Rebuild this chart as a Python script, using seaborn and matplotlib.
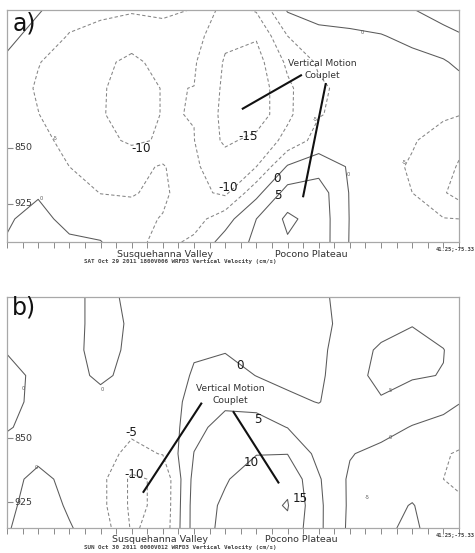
import numpy as np
import matplotlib
matplotlib.use("Agg")
import matplotlib.pyplot as plt
import seaborn as sns

sns.set_theme(style="white")
plt.rcParams['font.family'] = ['DejaVu Sans']

# ---------------- data ----------------
# distance along cross-section (grid units, 0..29)
x_grid = [0, 2, 4, 6, 8, 10, 12, 14, 16, 18, 20, 22, 24, 26, 28, 29]
levels = [-15, -10, -5, 0, 5, 10, 15]

# Panel a: pressure levels (hPa) and vertical velocity (cm/s) per level
a_pressure = [665, 700, 735, 770, 805, 840, 875, 910, 945, 976]
a_w_665 = [2.0, 0.5, -3.0, -4.0, -4.5, -4.0, -5.2, -12.0, -9.5, 0.5, 2.0, 3.0, 3.5, 4.8, 7.0, 8.0]
a_w_700 = [1.5, -2.0, -5.3, -6.5, -8.0, -7.0, -8.0, -14.0, -14.5, -5.0, -1.5, -1.2, -0.3, 1.5, 3.5, 4.5]
a_w_735 = [-1.0, -4.8, -7.0, -9.0, -11.0, -8.5, -9.5, -15.5, -17.0, -9.0, -4.3, -3.5, -2.5, -1.8, -0.5, 1.0]
a_w_770 = [-2.5, -5.5, -7.5, -9.5, -12.0, -9.8, -10.05, -16.0, -18.0, -11.0, -5.8, -3.5, -2.8, -2.8, -2.5, -2.0]
a_w_805 = [-3.0, -4.9, -7.5, -9.6, -12.0, -9.8, -10.1, -16.5, -18.0, -11.0, -5.3, -3.5, -3.0, -3.5, -4.3, -4.8]
a_w_840 = [-3.5, -4.0, -6.0, -8.5, -10.8, -9.5, -9.9, -16.0, -13.5, -8.5, -3.0, -2.0, -3.0, -4.6, -7.0, -8.5]
a_w_875 = [-3.5, -4.0, -5.0, -6.0, -6.5, -4.5, -9.5, -12.0, -10.0, 0.5, 3.0, -0.5, -3.5, -5.5, -8.0, -10.5]
a_w_910 = [-1.5, -0.5, -3.0, -5.1, -5.3, -4.0, -8.5, -11.0, -1.5, 7.0, 7.5, -0.3, -3.0, -5.0, -9.5, -12.0]
a_w_945 = [-0.5, 1.5, -1.5, -2.5, -3.5, -5.3, -7.0, -2.0, 5.0, 11.0, 8.0, -0.2, -2.0, -3.5, -4.8, -5.0]
a_w_976 = [0.3, 1.0, 0.8, 0.2, -3.5, -6.5, -4.0, 2.0, 6.0, 9.5, 8.0, -0.3, -2.0, -3.0, -4.0, -4.5]

# Panel b
b_pressure = [684, 715, 746, 776, 807, 837, 868, 898, 929, 956]
b_w_684 = [-2.0, -2.5, -1.5, 1.5, -1.0, -2.5, -3.0, -3.5, -3.5, -2.5, -0.8, 1.5, 2.0, 2.5, 2.5, 2.5]
b_w_715 = [-1.5, -2.5, -1.5, 1.5, -0.5, -2.5, -3.0, -3.5, -3.5, -2.5, -1.2, 1.5, 2.5, 4.8, 3.5, 2.5]
b_w_746 = [-0.3, -1.5, -1.3, 1.5, -0.8, -2.0, -0.3, -0.3, -1.5, -1.5, -0.8, 2.0, 6.0, 6.5, 5.1, 3.5]
b_w_776 = [1.5, -1.0, -1.5, 0.8, -1.2, -1.8, 0.3, 2.0, -0.1, -1.5, -0.8, 3.0, 6.5, 5.3, 4.9, 3.0]
b_w_807 = [1.2, -1.0, -1.5, -1.5, -2.0, -2.0, 1.2, 4.2, 3.5, 1.2, -0.2, 3.0, 4.5, 3.5, 1.5, 0.2]
b_w_837 = [0.3, -1.2, -2.0, -3.0, -4.2, -4.5, 3.8, 6.5, 7.0, 4.9, 3.5, 3.0, 2.0, -0.3, -1.5, -2.0]
b_w_868 = [-1.5, -1.5, -2.0, -3.5, -6.0, -4.8, 5.1, 8.0, 9.8, 9.9, 3.5, 0.3, -1.5, -2.5, -4.5, -5.5]
b_w_898 = [-1.8, 1.5, -1.5, -3.5, -11.0, -9.0, 6.5, 9.5, 13.0, 14.0, 5.5, -0.8, -2.0, -2.5, -5.0, -6.0]
b_w_929 = [-1.0, 2.0, -0.5, -3.5, -11.0, -9.0, 7.0, 11.0, 13.5, 15.3, 6.0, -0.8, -2.0, 0.3, -3.5, -4.0]
b_w_956 = [-0.3, 2.0, 0.3, -2.0, -10.5, -8.5, 7.0, 11.5, 13.0, 14.0, 6.0, -1.0, -1.0, 1.0, -3.0, -3.5]

a_field = np.array([a_w_665, a_w_700, a_w_735, a_w_770, a_w_805,
                    a_w_840, a_w_875, a_w_910, a_w_945, a_w_976])
b_field = np.array([b_w_684, b_w_715, b_w_746, b_w_776, b_w_807,
                    b_w_837, b_w_868, b_w_898, b_w_929, b_w_956])

pressure_ticks = [850, 925]
place_labels = ["Susquehanna Valley", "Pocono Plateau"]
titles = ["SAT Oct 29 2011 1800V006 WRFD3 Vertical Velocity (cm/s)",
          "SUN Oct 30 2011 0000V012 WRFD3 Vertical Velocity (cm/s)"]

# ---------------- figure ----------------
W, H = 475, 553
fig = plt.figure(figsize=(W / 100, H / 100), dpi=100)
fig.patch.set_facecolor("white")


def fx(px):
    return px / W


def fy(py):
    return 1 - py / H


axA = fig.add_axes([fx(7), fy(242), 452 / W, 232 / H])
axB = fig.add_axes([fx(7), fy(528), 452 / W, 231 / H])

neg_col, pos_col = "#858585", "#5a5a5a"
line_colors = [neg_col if l < 0 else pos_col for l in levels]
line_styles = [(0, (3.2, 2.2)) if l < 0 else "solid" for l in levels]


def style_axis(ax, ylims):
    ax.set_facecolor("white")
    ax.set_xlim(0, 29)
    ax.set_ylim(*ylims)
    for s in ax.spines.values():
        s.set_color("#a8a8a8")
        s.set_linewidth(0.9)
    ax.set_xticks(np.arange(0, 30, 1))
    ax.set_xticklabels([])
    ax.tick_params(axis="x", direction="out", length=4, width=0.7,
                   color="#8a8a8a", bottom=True, top=False)
    ax.set_yticks(pressure_ticks)
    ax.set_yticklabels([])
    ax.tick_params(axis="y", direction="in", length=4.5, width=0.8,
                   color="#8a8a8a", left=True, right=False)
    ax.grid(False)
    for p in pressure_ticks:
        ax.text(0.5, p, str(p), fontsize=6.8, color="#3a3a3a",
                ha="left", va="center")


for ax, P, Z, ylims in [(axA, a_pressure, a_field, (975.9, 665.2)),
                        (axB, b_pressure, b_field, (955.5, 683.6))]:
    ax.contour(np.array(x_grid), np.array(P), Z, levels=levels,
               colors=line_colors, linewidths=0.75, linestyles=line_styles)
    style_axis(ax, ylims)

big = dict(fontsize=8.6, color="#1a1a1a", ha="center", va="center")
small = dict(fontsize=3.6, color="#555555", ha="center", va="center")
note = dict(fontsize=6.6, color="#333333", ha="center", va="center")

# ---- panel a annotations ----
axA.text(1.1, 683, "a)", fontsize=17, color="#111111", ha="center", va="center")
for s, x, p in [("-10", 8.6, 851), ("-15", 15.5, 835), ("-10", 14.2, 903),
                ("0", 17.3, 891), ("5", 17.4, 913)]:
    axA.text(x, p, s, **big)
for s, x, p in [("0", 2.2, 918), ("0", 22.8, 696), ("0", 21.9, 886),
                ("-5", 3.1, 837), ("-5", 19.8, 812), ("-5", 25.5, 870)]:
    axA.text(x, p, s, **small)
axA.text(20.2, 737, "Vertical Motion", **note)
axA.text(20.2, 753, "Couplet", **note)
axA.plot([18.92, 15.07], [752, 798], color="#111111", lw=1.5, solid_capstyle="butt")
axA.plot([20.46, 18.99], [763, 916], color="#111111", lw=1.5, solid_capstyle="butt")

# ---- panel b annotations ----
axB.text(1.1, 696, "b)", fontsize=17, color="#111111", ha="center", va="center")
for s, x, p in [("0", 14.95, 764), ("5", 16.1, 828), ("10", 15.7, 878),
                ("15", 18.8, 921), ("-5", 8.0, 843), ("-10", 8.15, 893)]:
    axB.text(x, p, s, **big)
for s, x, p in [("0", 1.03, 791), ("0", 6.1, 793), ("0", 1.9, 884),
                ("0", 24.6, 849), ("5", 24.6, 794), ("-5", 23.1, 920)]:
    axB.text(x, p, s, **small)
axB.text(14.3, 791, "Vertical Motion", **note)
axB.text(14.3, 805, "Couplet", **note)
axB.plot([12.5, 8.72], [808, 914], color="#111111", lw=1.5, solid_capstyle="butt")
axB.plot([14.5, 17.45], [818, 903], color="#111111", lw=1.5, solid_capstyle="butt")

# ---- text beneath panels ----
for y_lab, y_tit, y_loc, xs, tit in [(254, 262, 249, (165, 311.5), titles[0]),
                                     (539, 548, 535, (160, 301), titles[1])]:
    fig.text(fx(xs[0]), fy(y_lab), place_labels[0], fontsize=6.8,
             color="#333333", ha="center", va="center")
    fig.text(fx(xs[1]), fy(y_lab), place_labels[1], fontsize=6.8,
             color="#333333", ha="center", va="center")
    fig.text(fx(180), fy(y_tit), tit, fontsize=4.2, family="DejaVu Sans Mono",
             weight="bold", color="#444444", ha="center", va="center")
    fig.text(fx(436), fy(y_loc), "41.25;-75.33", fontsize=4.0,
             family="DejaVu Sans Mono", weight="bold", color="#444444",
             ha="left", va="center")

fig.savefig("out.png", dpi=100, facecolor="white")
